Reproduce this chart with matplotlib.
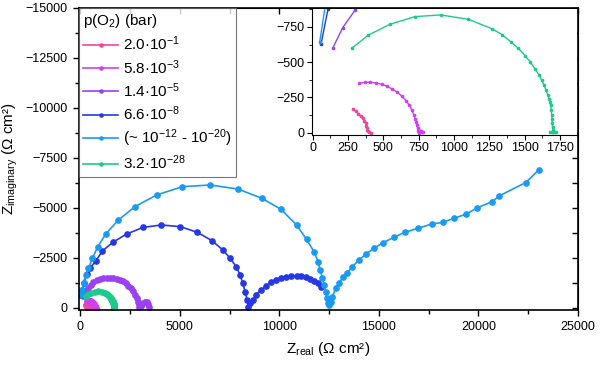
import matplotlib
matplotlib.use("Agg")
import matplotlib.pyplot as plt
from matplotlib.ticker import MultipleLocator

plt.rcParams['font.family'] = ['Liberation Sans', 'DejaVu Sans']
plt.rcParams['mathtext.fontset'] = 'custom'
plt.rcParams['mathtext.rm'] = 'Liberation Sans'
plt.rcParams['mathtext.it'] = 'Liberation Sans:italic'
plt.rcParams['mathtext.bf'] = 'Liberation Sans:bold'

labels = ['2.0·10$^{-1}$', '5.8·10$^{-3}$', '1.4·10$^{-5}$', '6.6·10$^{-8}$',
          '(~ 10$^{-12}$ - 10$^{-20}$)', '3.2·10$^{-28}$']
colors = ['#f2449b', '#d040ee', '#9b40f2', '#2638e6', '#1a9af2', '#1ec98c']

z_real_1 = [288, 305, 324, 340, 355, 366, 376, 380, 383, 388, 394, 402, 411]
z_imag_1 = [-165, -152, -136, -120, -101, -84, -66, -48, -31, -20, -12, -5, 0]

z_real_2 = [331, 370, 406, 450, 489, 525, 560, 597, 630, 660, 684, 702, 717, 725,
            731, 737, 743, 748, 752, 756, 760, 768, 775, 779]
z_imag_2 = [-352, -357, -359, -352, -343, -330, -312, -288, -260, -228, -195, -160,
            -124, -100, -77, -53, -31, -14, 0, -10, -14, -10, -5, -3]

z_real_3 = [143, 213, 300, 417, 540, 667, 830, 1000, 1165, 1333, 1500, 1667, 1833,
            2000, 2150, 2283, 2420, 2550, 2660, 2750, 2830, 2883, 2930, 2967, 3050,
            3167, 3250, 3333, 3400, 3450]
z_imag_3 = [-600, -745, -868, -983, -1140, -1283, -1380, -1450, -1500, -1517, -1510,
            -1483, -1450, -1400, -1330, -1233, -1120, -983, -830, -650, -480, -317,
            -190, -67, -120, -233, -280, -283, -200, -67]

z_real_4 = [60, 110, 180, 333, 500, 783, 1117, 1633, 2333, 3167, 4083, 5033, 5883,
            6617, 7167, 7533, 7833, 8033, 8167, 8283, 8383, 8450, 8550, 8667, 8833,
            9083, 9333, 9583, 9833, 10083, 10333, 10600, 10867, 11100, 11333, 11550,
            11750, 11920, 12083]
z_imag_4 = [-629, -880, -1250, -1700, -2000, -2350, -2850, -3283, -3700, -4033, -4150,
            -4067, -3783, -3367, -2900, -2483, -2067, -1650, -1233, -817, -400, -67,
            -250, -400, -650, -900, -1100, -1283, -1400, -1517, -1567, -1600, -1600,
            -1583, -1533, -1450, -1367, -1230, -1067]

z_real_5 = [50, 90, 167, 280, 417, 617, 883, 1283, 1917, 2750, 3833, 5133, 6533,
            7917, 9133, 10083, 10867, 11367, 11750, 11950, 12050, 12167, 12250,
            12330, 12400, 12470, 12500, 12580, 12667, 12833, 13000, 13217, 13417,
            13667, 14000, 14367, 14750, 15217, 15750, 16300, 16950, 17667, 18217,
            18750, 19367, 19950, 20700, 21033, 22367, 23033]
z_imag_5 = [-640, -900, -1250, -1650, -2017, -2483, -3067, -3700, -4400, -5067, -5650,
            -6067, -6150, -5950, -5483, -4933, -4150, -3433, -2800, -2317, -1900,
            -1483, -1150, -800, -500, -250, -130, -300, -567, -983, -1267, -1567,
            -1767, -2067, -2400, -2700, -2983, -3267, -3533, -3783, -3983, -4200,
            -4283, -4483, -4683, -5017, -5317, -5600, -6267, -6900]

z_real_6 = [277, 394, 548, 724, 906, 1101, 1266, 1340, 1400, 1455, 1502, 1540, 1572,
            1600, 1620, 1637, 1650, 1662, 1671, 1678, 1683, 1687, 1690, 1692, 1694,
            1696, 1697, 1698, 1690, 1680, 1700, 1710, 1720]
z_imag_6 = [-598, -692, -769, -823, -835, -804, -738, -695, -645, -598, -546, -500,
            -453, -410, -371, -335, -300, -270, -242, -218, -195, -160, -124, -95,
            -66, -40, -19, -8, -5, -3, -3, -5, -5]

series = [(z_real_1, z_imag_1), (z_real_2, z_imag_2), (z_real_3, z_imag_3),
          (z_real_4, z_imag_4), (z_real_5, z_imag_5), (z_real_6, z_imag_6)]

W, H = 600, 367
fig = plt.figure(figsize=(6.0, 3.67), dpi=100)

L, R, T, B = 79, 578, 8, 310
ax = fig.add_axes([L / W, 1 - B / H, (R - L) / W, (B - T) / H])
for (xr, yi), c, lab in zip(series, colors, labels):
    ax.plot(xr, yi, '-o', color=c, lw=1.2, ms=3.8, label=lab)
ax.set_xlim(-60, 25000)
ax.set_ylim(100, -15000)
ax.xaxis.set_major_locator(MultipleLocator(5000))
ax.xaxis.set_minor_locator(MultipleLocator(2500))
ax.yaxis.set_major_locator(MultipleLocator(2500))
ax.yaxis.set_minor_locator(MultipleLocator(1250))
ax.tick_params(which='both', direction='out', labelsize=9, width=1)
ax.tick_params(which='major', length=4.5)
ax.tick_params(which='minor', length=3)
for spine in ax.spines.values():
    spine.set_linewidth(1.2)

# inward ticks on top and right
sx = ax.secondary_xaxis('top')
sx.xaxis.set_major_locator(MultipleLocator(2500))
sx.tick_params(direction='in', length=4.5, width=1, labeltop=False)
sy = ax.secondary_yaxis('right')
sy.yaxis.set_major_locator(MultipleLocator(1250))
sy.tick_params(direction='in', length=4.5, width=1, labelright=False)

ax.set_xlabel(r'Z$_{\rm real}$ (Ω cm²)', fontsize=11, labelpad=5)
ax.set_ylabel(r'Z$_{\rm imaginary}$ (Ω cm²)', fontsize=11, labelpad=4)

leg = ax.legend(loc='upper left', bbox_to_anchor=(0, 1), borderaxespad=0,
                title='p(O$_2$) (bar)', fontsize=11, title_fontsize=11,
                frameon=True, fancybox=False, edgecolor='#555555',
                handlelength=2.3, handletextpad=0.3, labelspacing=0.3,
                borderpad=0.28, markerscale=0.6)
leg._legend_box.align = 'left'
leg.get_frame().set_linewidth(0.8)
leg.set_zorder(10)

# inset
iL, iR, iT, iB = 311.7, 577, 9, 135
axi = fig.add_axes([iL / W, 1 - iB / H, (iR - iL) / W, (iB - iT) / H])
for (xr, yi), c in zip(series, colors):
    axi.plot(xr, yi, '-o', color=c, lw=1.0, ms=1.6)
axi.set_xlim(-6, 1869)
axi.set_ylim(16, -877)
axi.xaxis.set_major_locator(MultipleLocator(250))
axi.xaxis.set_minor_locator(MultipleLocator(125))
axi.yaxis.set_major_locator(MultipleLocator(250))
axi.yaxis.set_minor_locator(MultipleLocator(125))
axi.tick_params(which='both', direction='out', labelsize=9, pad=1.5)
axi.tick_params(which='major', length=3.5)
axi.tick_params(which='minor', length=2)
axi.spines['top'].set_visible(False)
axi.spines['right'].set_visible(False)

fig.savefig('out.png', dpi=100)
